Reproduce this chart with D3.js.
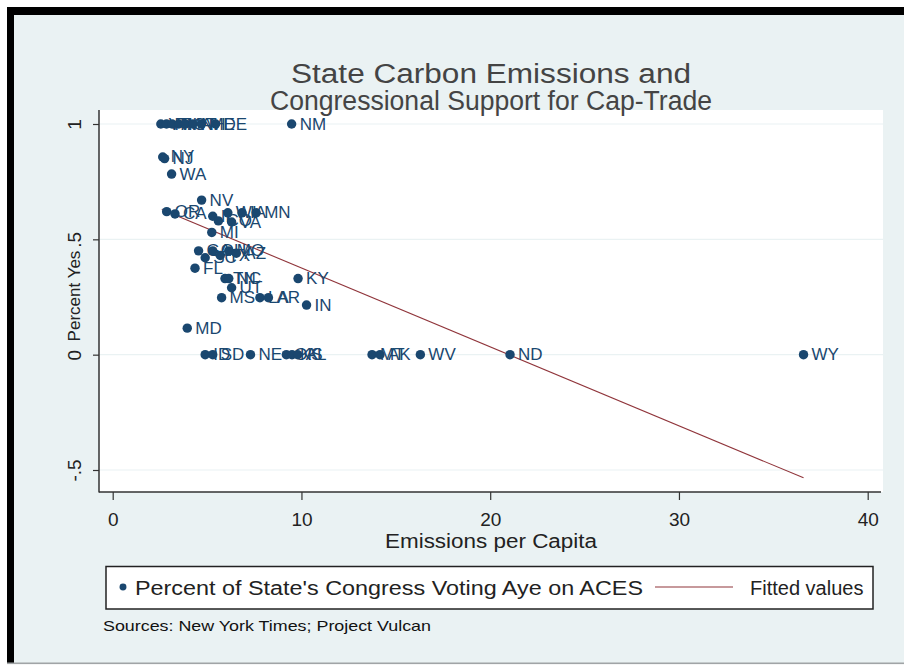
<!DOCTYPE html>
<html>
<head>
<meta charset="utf-8">
<script src="https://cdn.jsdelivr.net/npm/d3@7"></script>
<style>
  html, body { margin: 0; padding: 0; background: #fff; }
  svg { display: block; }
  text { font-family: "Liberation Sans", Arial, Helvetica, sans-serif; }
</style>
</head>
<body>
<svg id="chart" width="904" height="666"></svg>
<script>
// State labels, emissions per capita and share of the delegation voting aye
const states = [
  "VT","RI","HI","MA","CT","NH","ME","DE","NM",
  "NY","NJ","WA",
  "OR","CA","NV","IL","CO","WI","IA","MN","VA","MI",
  "GA","SC","OH","TX","MO","AZ","FL",
  "TN","NC","UT",
  "MS","LA","AR","KY","IN","MD",
  "ID","SD","NE","OK","KS","AL","MT","AK","WV","ND","WY"
];
const emissions = [
  2.55, 2.85, 3.15, 3.5, 3.85, 4.25, 4.7, 5.45, 9.48,
  2.65, 2.75, 3.12,
  2.86, 3.3, 4.71, 5.3, 5.6, 6.1, 6.85, 7.6, 6.3, 5.25,
  4.55, 4.9, 5.3, 5.7, 6.15, 6.55, 4.36,
  5.95, 6.15, 6.3,
  5.77, 7.8, 8.25, 9.82, 10.27, 3.95,
  4.9, 5.3, 7.3, 9.2, 9.5, 9.8, 13.74, 14.16, 16.3, 21.05, 36.6
];
const pctYes = [
  1, 1, 1, 1, 1, 1, 1, 1, 1,
  0.857, 0.85, 0.783,
  0.62, 0.61, 0.67, 0.6, 0.58, 0.615, 0.615, 0.615, 0.575, 0.53,
  0.45, 0.42, 0.45, 0.43, 0.45, 0.44, 0.375,
  0.33, 0.33, 0.29,
  0.247, 0.247, 0.247, 0.33, 0.215, 0.115,
  0, 0, 0, 0, 0, 0, 0, 0, 0, 0, 0
];

// End points of the fitted regression line
const fitEmissions = [2.6, 36.6];
const fitValues = [0.629, -0.534];

const xTickValues = [0, 10, 20, 30, 40];
const yTickValues = [-0.5, 0, 0.5, 1];
const yTickLabels = ["-.5", "0", ".5", "1"];

const titleLines = ["State Carbon Emissions and", "Congressional Support for Cap-Trade"];
const xTitle = "Emissions per Capita";
const yTitle = "Percent Yes";
const legendLabels = ["Percent of State's Congress Voting Aye on ACES", "Fitted values"];
const note = "Sources: New York Times; Project Vulcan";

const W = 904, H = 666;
const navy = "#1a476f", maroon = "#90353b", bg = "#eaf2f3";
const plot = { left: 99, right: 883, top: 110, bottom: 492 };

const svg = d3.select("#chart");

// outer background and frame
svg.append("rect").attr("width", W).attr("height", H).attr("fill", "#fff");
svg.append("rect").attr("x", 7).attr("y", 7).attr("width", W - 7).attr("height", 656).attr("fill", bg);
svg.append("rect").attr("x", 7).attr("y", 7).attr("width", W - 7).attr("height", 8).attr("fill", "#000");
svg.append("rect").attr("x", 7).attr("y", 7).attr("width", 7).attr("height", 657).attr("fill", "#000");
svg.append("rect").attr("x", 7).attr("y", 662.5).attr("width", W - 7).attr("height", 1.6).attr("fill", "#a0a4a6");

// plot region
svg.append("rect")
  .attr("x", plot.left).attr("y", plot.top)
  .attr("width", plot.right - plot.left).attr("height", plot.bottom - plot.top)
  .attr("fill", "#fff");

const x = d3.scaleLinear().domain([0, 40]).range([112.7, 867.7]);
const y = d3.scaleLinear().domain([-0.5, 1]).range([470, 124]);

// horizontal grid
svg.append("g").selectAll("line").data(yTickValues).join("line")
  .attr("x1", plot.left).attr("x2", plot.right)
  .attr("y1", d => y(d)).attr("y2", d => y(d))
  .attr("stroke", bg).attr("stroke-width", 1.2);

// axes
const xAxis = svg.append("g")
  .attr("transform", `translate(0,${plot.bottom})`)
  .call(d3.axisBottom(x).tickValues(xTickValues).tickFormat(d3.format("d"))
        .tickSize(8).tickSizeOuter(0).tickPadding(13));
xAxis.select(".domain").remove();
xAxis.selectAll(".tick line").attr("stroke", "#333").attr("stroke-width", 1.2);
xAxis.selectAll(".tick text").attr("fill", "#222").style("font-size", "19px");

const yAxis = svg.append("g")
  .attr("transform", `translate(${plot.left},0)`)
  .call(d3.axisLeft(y).tickValues(yTickValues).tickFormat((d, i) => yTickLabels[i])
        .tickSize(6).tickSizeOuter(0));
yAxis.select(".domain").remove();
yAxis.selectAll(".tick line").attr("stroke", "#333").attr("stroke-width", 1.2);
yAxis.selectAll(".tick text")
  .attr("x", 0).attr("dy", null)
  .attr("transform", "translate(-25,0) rotate(-90)")
  .attr("text-anchor", "middle").attr("dominant-baseline", "central")
  .attr("fill", "#222").style("font-size", "19px");

// axis lines
svg.append("line").attr("x1", plot.left).attr("x2", plot.left)
  .attr("y1", plot.top).attr("y2", plot.bottom + 0.6)
  .attr("stroke", "#333").attr("stroke-width", 1.5);
svg.append("line").attr("x1", plot.left).attr("x2", plot.right - 2)
  .attr("y1", plot.bottom).attr("y2", plot.bottom)
  .attr("stroke", "#333").attr("stroke-width", 1.5);

// fitted line
const fitData = fitEmissions.map((e, i) => [e, fitValues[i]]);
svg.append("path").datum(fitData)
  .attr("d", d3.line().x(d => x(d[0])).y(d => y(d[1])))
  .attr("fill", "none").attr("stroke", maroon).attr("stroke-width", 1.1);

// labelled points, each marker drawn before its label, left to right
const points = states.map((s, i) => ({ s, e: emissions[i], p: pctYes[i] }))
  .sort((a, b) => a.e - b.e);
const marker = d3.symbol().type(d3.symbolCircle).size(70);
const pg = svg.append("g").selectAll("g").data(points).join("g")
  .attr("transform", d => `translate(${x(d.e)},${y(d.p)})`);
pg.append("path").attr("d", marker).attr("fill", navy);
pg.append("text").text(d => d.s)
  .attr("x", 8).attr("dominant-baseline", "central")
  .attr("fill", navy).style("font-size", "17px");

// titles
const titleWidths = [400, 442];
svg.append("g").selectAll("text").data(titleLines).join("text")
  .attr("x", 491).attr("y", (d, i) => 83 + i * 27)
  .attr("text-anchor", "middle").attr("fill", "#444")
  .attr("textLength", (d, i) => titleWidths[i]).attr("lengthAdjust", "spacingAndGlyphs")
  .style("font-size", "27px").text(d => d);
svg.append("text").attr("x", 491).attr("y", 541)
  .attr("text-anchor", "middle").attr("dominant-baseline", "central")
  .attr("textLength", 212).attr("lengthAdjust", "spacingAndGlyphs")
  .attr("fill", "#222").style("font-size", "20px").text(xTitle);
svg.append("text").attr("transform", "translate(74,296) rotate(-90)")
  .attr("text-anchor", "middle").attr("dominant-baseline", "central")
  .attr("fill", "#222").style("font-size", "17px").text(yTitle);

// legend
const lg = svg.append("g");
lg.append("rect").attr("x", 106).attr("y", 566.5).attr("width", 767).attr("height", 42.5)
  .attr("fill", "#fff").attr("stroke", "#222").attr("stroke-width", 1.5);
lg.append("path").attr("d", d3.symbol().type(d3.symbolCircle).size(38))
  .attr("transform", "translate(123,587)").attr("fill", navy);
lg.append("text").attr("x", 135).attr("y", 588).attr("dominant-baseline", "central")
  .attr("textLength", 508).attr("lengthAdjust", "spacingAndGlyphs")
  .attr("fill", "#222").style("font-size", "20px").text(legendLabels[0]);
lg.append("line").attr("x1", 655).attr("x2", 733).attr("y1", 587).attr("y2", 587)
  .attr("stroke", maroon).attr("stroke-width", 1.2);
lg.append("text").attr("x", 750).attr("y", 588).attr("dominant-baseline", "central")
  .attr("fill", "#222").style("font-size", "20px").text(legendLabels[1]);

// source note
svg.append("text").attr("x", 103).attr("y", 625).attr("dominant-baseline", "central")
  .attr("textLength", 328).attr("lengthAdjust", "spacingAndGlyphs")
  .attr("fill", "#111").style("font-size", "15px").text(note);
</script>
</body>
</html>
